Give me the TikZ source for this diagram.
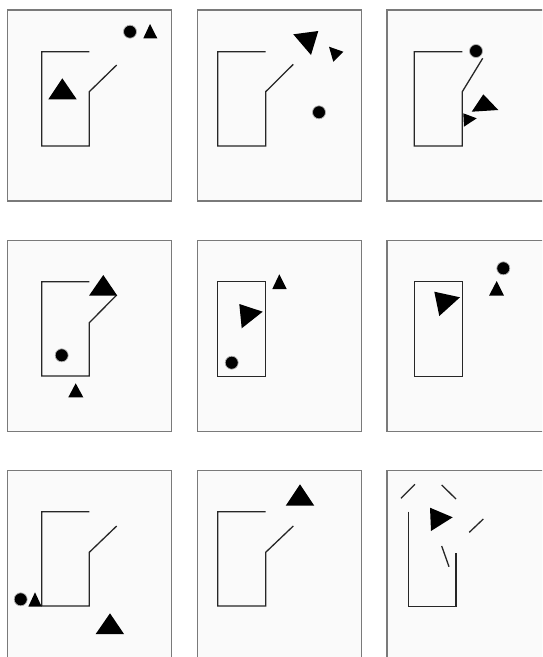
\documentclass[tikz,border=0pt]{standalone}
\usepackage{tikz}
\definecolor{framegray}{HTML}{7A7A7A}
\definecolor{panelbg}{HTML}{FAFAFA}

\tikzset{
  panel/.style={draw=framegray, fill=panelbg, line width=1.1pt},
  wall/.style={draw=black!85, line width=1.3pt, line join=miter},
  agent/.style={fill=black},
  ball/.style={fill=black, draw=gray!60, line width=0.7pt}
}

\begin{document}
\begin{tikzpicture}[x=1pt, y=-1pt]
\useasboundingbox (0,0) rectangle (542,657);
\clip (0,0) rectangle (542,657);
\fill[white] (0,0) rectangle (542,657);

% --- Panels (3x3 grid) ---
\foreach \xa/\xb in {7.3/171.7, 197.3/361.7, 387/570} {
  \foreach \ya/\yb in {10/201, 240.7/431.7, 470.7/690} {
    \path[panel] (\xa,\ya) rectangle (\xb,\yb);
  }
}

% --- Row 1 ---
% panel 1
\draw[wall] (89.3,51.7) -- (41.7,51.7) -- (41.7,146) -- (89.3,146) -- (89.3,91.7) -- (116.7,65);
\fill[agent] (62.3,78.3) -- (48.3,99.3) -- (76.7,99.3) -- cycle;
\path[ball] (130,31.7) circle (6.5);
\fill[agent] (150,24) -- (143.3,38.3) -- (157.3,38.3) -- cycle;

% panel 2
\draw[wall] (265.7,51.7) -- (217.7,51.7) -- (217.7,146) -- (265.7,146) -- (265.7,91.7) -- (293.3,64.3);
\fill[agent] (293.3,34.3) -- (318.3,31) -- (311,55) -- cycle;
\fill[agent] (329,46.7) -- (343.3,51.7) -- (333.3,61.7) -- cycle;
\path[ball] (319,112.3) circle (6.5);

% panel 3
\draw[wall] (462.3,51.7) -- (414.3,51.7) -- (414.3,146) -- (462.3,146) -- (462.3,91.7) -- (482.7,58.3);
\path[ball] (476,51) circle (6.5);
\fill[agent] (471.7,111.7) -- (483.3,94.3) -- (498.3,110) -- cycle;
\fill[agent] (463.3,113.3) -- (476.7,118.3) -- (464,126.7) -- cycle;

% --- Row 2 ---
% panel 4
\draw[wall] (89.3,281.7) -- (41.7,281.7) -- (41.7,376) -- (89.3,376) -- (89.3,322.7) -- (116.7,295);
\fill[agent] (103.3,275) -- (89,295.7) -- (117.3,295.7) -- cycle;
\path[ball] (61.7,355.3) circle (6.5);
\fill[agent] (75.7,383.3) -- (68.3,397.3) -- (83.3,397.3) -- cycle;

% panel 5
\draw[wall] (217.7,281.7) rectangle (265.7,376.7);
\fill[agent] (239.3,304) -- (262.7,311.7) -- (241.7,328.3) -- cycle;
\fill[agent] (279.3,274.3) -- (272.3,289) -- (286.7,289) -- cycle;
\path[ball] (231.7,362.7) circle (6.5);

% panel 6
\draw[wall] (414.3,281.7) rectangle (462.7,376.7);
\fill[agent] (434.3,291.7) -- (460,297.3) -- (439.3,316) -- cycle;
\path[ball] (503.3,268.3) circle (6.5);
\fill[agent] (496.7,281) -- (489,295.7) -- (504,295.7) -- cycle;

% --- Row 3 ---
% panel 7
\draw[wall] (89.3,511.7) -- (41.7,511.7) -- (41.7,606) -- (89.3,606) -- (89.3,552.3) -- (116.7,526);
\path[ball] (20.7,599.3) circle (6.5);
\fill[agent] (35,592.3) -- (28.3,606.7) -- (41.7,606.7) -- cycle;
\fill[agent] (110,613.3) -- (95.7,634) -- (124,634) -- cycle;

% panel 8
\draw[wall] (265.7,511.7) -- (217.7,511.7) -- (217.7,606) -- (265.7,606) -- (265.7,552.3) -- (293.3,526);
\fill[agent] (300,484.3) -- (285.7,505.7) -- (314.3,505.7) -- cycle;

% panel 9 (broken walls)
\draw[wall] (408.3,511.7) -- (408.3,606.7) -- (456,606.7) -- (456,552.7);
\draw[wall] (401,498.3) -- (415,484.3);
\draw[wall] (441.7,485) -- (456,499);
\draw[wall] (469.3,532.3) -- (483.3,519);
\draw[wall] (441.7,546) -- (449,566.7);
\fill[agent] (430,507.7) -- (452.7,517.3) -- (431,531) -- cycle;
\end{tikzpicture}
\end{document}
